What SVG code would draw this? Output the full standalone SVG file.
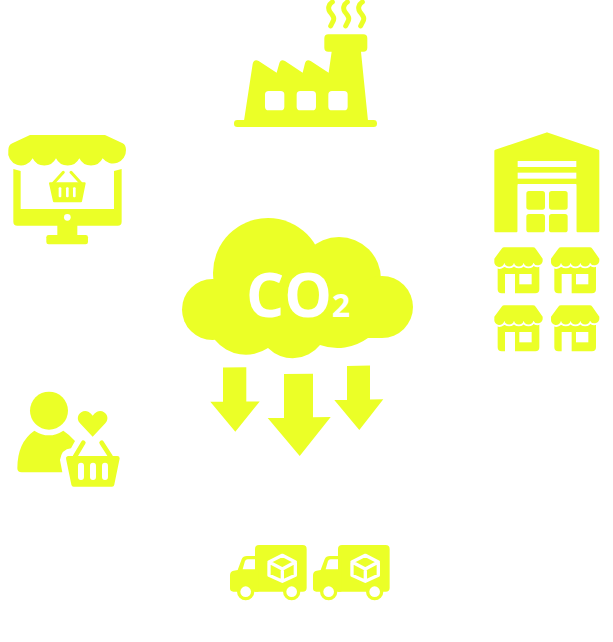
<svg xmlns="http://www.w3.org/2000/svg" xmlns:xlink="http://www.w3.org/1999/xlink" width="613" height="642" viewBox="0 0 613 642">
<style>
.y{fill:#ebff27}
.w{fill:#fff}
.ys{fill:none;stroke:#ebff27;stroke-linecap:round;stroke-linejoin:round}
.ws{fill:none;stroke:#fff;stroke-linecap:round;stroke-linejoin:round}
.rj{stroke:#ebff27;stroke-linejoin:round}
text{font-family:"Open Sans","DejaVu Sans",sans-serif;font-weight:700;fill:#fff}
</style>
<defs>
<g id="store">
<path class="y" d="M38 72H163V148q0 12-12 12H90V102H60V160H50q-12 0-12-12Z"/>
<rect class="w" x="103" y="102" width="37" height="31"/>
<path class="y" style="stroke:#fff;stroke-width:11;paint-order:stroke;stroke-linejoin:miter" d="M58 22H144q5 0 8 4L173 56V64A15 15 0 0 1 145 68A15 15 0 0 1 116 68A15 15 0 0 1 87 68A15 15 0 0 1 58 68A15 15 0 0 1 28 64V56L50 26q3-4 8-4Z"/>
</g>
<g id="truck">
<path class="y" d="M90 27q0-12 12-12H233q12 0 12 12V143q0 12-12 12H90Z"/>
<path class="y" d="M90 48H66Q54 48 50 58L38 90 26 92Q15 94 15 106V145q0 10 10 10H100V48Z"/>
<path class="w" d="M90 58H68Q62 58 60 63L53 88H90Z"/>
<circle class="y" cx="62" cy="155" r="26"/><circle class="w" cx="62" cy="155" r="16"/>
<circle class="y" cx="200" cy="155" r="26"/><circle class="w" cx="200" cy="155" r="16"/>
<path class="ws" stroke-width="10" d="M172 46L211 66V106L172 124 132 106V66ZM132 66L172 87 211 66M172 87V124"/>
</g>
</defs>

<g id="factory" transform="translate(220 0) scale(.3333)">
<rect class="y" x="42" y="360" width="429" height="21" rx="10"/>
<path class="y" d="M72 362L98 192Q102 176 116 183L170 218 178 190Q182 176 195 183L248 218 255 190Q259 176 272 183L326 218 335 155H325Q313 155 313 143V115Q313 103 325 103H430Q442 103 442 115V143Q442 155 430 155H423L444 362Z"/>
<g class="w"><rect x="135" y="273" width="58" height="58" rx="11"/><rect x="230" y="273" width="58" height="58" rx="11"/><rect x="325" y="273" width="58" height="58" rx="11"/></g>
<g class="ys" stroke-width="15">
<path d="M337 6C325 14 323 26 330 36C338 46 346 54 338 66Q335 72 332 78"/>
<path d="M382 6C370 14 368 26 375 36C383 46 391 54 383 66Q380 72 377 78"/>
<path d="M427 6C415 14 413 26 420 36C428 46 436 54 428 66Q425 72 422 78"/>
</g>
</g>

<g id="online-shop" transform="translate(0 125) scale(.3333)">
<path class="y" d="M40 132L62 138V252H342V138L365 132V290q0 12-12 12H52q-12 0-12-12Z"/>
<circle class="w" cx="202" cy="277" r="10"/>
<rect class="y" x="172" y="300" width="60" height="32"/>
<rect class="y" x="139" y="330" width="125" height="28" rx="7"/>
<path class="y" d="M90 30H315L368 55Q378 60 378 75A39 39 0 0 1 308 100A39 39 0 0 1 238 100A39 39 0 0 1 168 100A39 39 0 0 1 98 100A39 39 0 0 1 25 75Q25 60 37 55Z"/>
<path class="ys" stroke-width="9" d="M190 142L160 175M213 142L243 175"/>
<path class="y rj" stroke-width="6" d="M150 175H254L243 229H162Z"/>
<g class="w"><rect x="176" y="187" width="8" height="30" rx="3"/><rect x="198" y="187" width="8" height="30" rx="3"/><rect x="219" y="187" width="8" height="30" rx="3"/></g>
</g>

<g id="warehouse" transform="translate(485 125) scale(.3333)">
<path class="y rj" stroke-width="8" d="M32 78L186 26 339 78V318H278V177H94V318H32Z"/>
<path class="y" d="M94 100H278V177H94Z"/>
<rect class="w" x="98" y="108" width="176" height="18"/>
<rect class="w" x="98" y="143" width="176" height="18"/>
<rect class="w" x="98" y="177" width="176" height="149"/>
<g class="y"><rect x="124" y="198" width="56" height="56" rx="8"/><rect x="192" y="198" width="56" height="56" rx="8"/><rect x="124" y="267" width="56" height="55" rx="8"/><rect x="192" y="267" width="56" height="55" rx="8"/></g>
</g>

<g id="stores" transform="translate(485 240) scale(.3333)">
<use xlink:href="#store" href="#store"/>
<use xlink:href="#store" href="#store" x="170"/>
<use xlink:href="#store" href="#store" y="174"/>
<use xlink:href="#store" href="#store" x="170" y="174"/>
</g>

<g id="customer" transform="translate(10 385) scale(.3333)">
<circle class="y" cx="117" cy="77" r="57"/>
<path class="y" d="M22 250Q22 172 73 137Q117 165 160 137Q180 150 195 168L183 190Q155 192 150 225L157 262H35Q22 262 22 250Z"/>
<path class="y" d="M248 155L210 115C192 95 215 70 235 80Q243 84 248 92Q253 84 261 80C281 70 304 95 286 115Z"/>
<path class="ys" stroke-width="14" d="M220 173L195 215M275 173L302 215"/>
<path class="y rj" stroke-width="14" d="M175 220H322L306 298H191Z"/>
<g class="w"><rect x="204" y="233" width="18" height="52" rx="9"/><rect x="240" y="233" width="18" height="52" rx="9"/><rect x="276" y="233" width="18" height="52" rx="9"/></g>
</g>

<g id="trucks" transform="translate(225 540) scale(.3333)">
<use xlink:href="#truck" href="#truck"/>
<use xlink:href="#truck" href="#truck" x="249"/>
</g>

<g id="co2-cloud">
<g class="y">
<circle cx="268" cy="273" r="55"/>
<circle cx="339" cy="279" r="42"/>
<circle cx="212.500" cy="309.500" r="30.500"/>
<circle cx="382" cy="307" r="31"/>
<path d="M215 280H382V338H368A52 52 0 0 1 320 345A35 35 0 0 1 268 348A40 40 0 0 1 215 340Z"/>
</g>
<text x="246" y="317" font-size="60">CO<tspan font-size="32">2</tspan></text>
</g>

<g id="connectors" class="y">
<path d="M223 367.500L246.300 367.300V401.400L259.700 401.400 235.300 431.700 210.300 401.700H223Z"/>
<path d="M284 374L313 373.800V417.300L330.700 417 299.700 456 267.700 418H284Z"/>
<path d="M347 365.900L370 365.600V399.500L383.300 399.300 359.300 430 334.300 400H347Z"/>
</g>
</svg>
